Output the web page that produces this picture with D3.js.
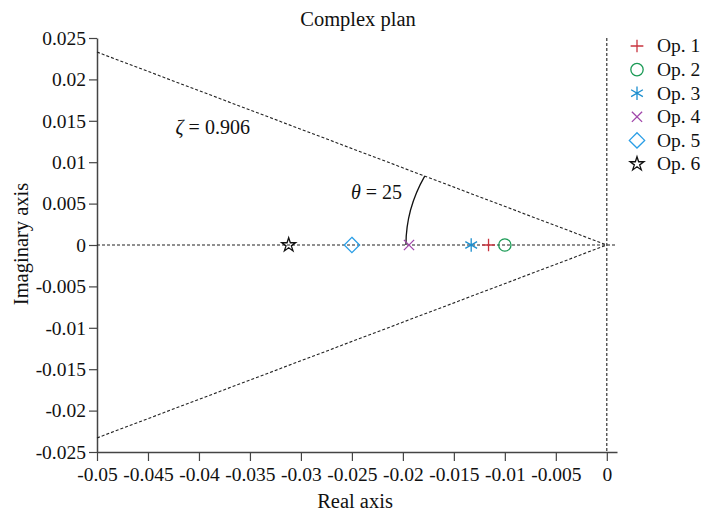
<!DOCTYPE html>
<html>
<head>
<meta charset="utf-8">
<script src="https://cdn.jsdelivr.net/npm/d3@7"></script>
<style>
  body { margin: 0; background: #fff; }
  svg text { font-family: "Liberation Serif", "DejaVu Serif", serif; fill: #111; }
</style>
</head>
<body>
<div id="chart"></div>
<script>
// Data
const series = ['Op. 1', 'Op. 2', 'Op. 3', 'Op. 4', 'Op. 5', 'Op. 6'];
const realValues = [-0.0116, -0.0100, -0.0133, -0.0194, -0.0250, -0.0312];
const imagValues = [0, 0, 0, 0, 0, 0];
const colors = ['#c9343f', '#1a9a55', '#1d8fcf', '#a046aa', '#2a9ee6', '#111111'];
const xTicks = [-0.05, -0.045, -0.04, -0.035, -0.03, -0.025, -0.02, -0.015, -0.01, -0.005, 0];
const yTicks = [0.025, 0.02, 0.015, 0.01, 0.005, 0, -0.005, -0.01, -0.015, -0.02, -0.025];
// damping lines through the origin: [x, y] at the left edge
const upperLine = [[-0.05, 0.0233], [0, 0]];
const lowerLine = [[-0.05, -0.0233], [0, 0]];
const arcRadius = 0.0197;
const zetaLabel = 'ζ = 0.906';
const thetaLabel = 'θ = 25';

const width = 705, height = 514;
const margin = { top: 38, right: 88, bottom: 62, left: 97 };

const svg = d3.select('#chart').append('svg')
  .attr('width', width)
  .attr('height', height);

const x = d3.scaleLinear()
  .domain([-0.05, 0.001])
  .range([margin.left, width - margin.right]);

const y = d3.scaleLinear()
  .domain([-0.025, 0.025])
  .range([height - margin.bottom, margin.top]);

const fmt = d => d === 0 ? '0' : String(+d.toFixed(3));

// Axes
const xAxis = svg.append('g')
  .attr('transform', `translate(0,${y(-0.025)})`)
  .call(d3.axisBottom(x).tickValues(xTicks).tickFormat(fmt).tickSize(9).tickPadding(6).tickSizeOuter(0));

const yAxis = svg.append('g')
  .attr('transform', `translate(${x(-0.05)},0)`)
  .call(d3.axisLeft(y).tickValues(yTicks).tickFormat(fmt).tickSize(8).tickPadding(3).tickSizeOuter(0));

[xAxis, yAxis].forEach(g => {
  g.select('.domain').attr('stroke', '#444').attr('stroke-width', 1.5);
  g.selectAll('.tick line').attr('stroke', '#444').attr('stroke-width', 1.2);
  g.selectAll('text').attr('font-size', '19.5px').attr('fill', '#111')
    .attr('font-family', '"Liberation Serif", serif');
});

// Dashed reference lines
const dash = '3,2';
const line = d3.line().x(d => x(d[0])).y(d => y(d[1]));

svg.append('line')
  .attr('x1', x(-0.05)).attr('x2', x(0.001))
  .attr('y1', y(0)).attr('y2', y(0))
  .attr('stroke', '#222').attr('stroke-width', 1.1).attr('stroke-dasharray', dash);

svg.append('line')
  .attr('x1', x(0)).attr('x2', x(0))
  .attr('y1', y(0.025)).attr('y2', y(-0.025))
  .attr('stroke', '#222').attr('stroke-width', 1.1).attr('stroke-dasharray', dash);

[upperLine, lowerLine].forEach(l => {
  svg.append('path')
    .datum(l)
    .attr('fill', 'none')
    .attr('stroke', '#222')
    .attr('stroke-width', 1.1)
    .attr('stroke-dasharray', dash)
    .attr('d', line);
});

// Angle arc from the real axis to the upper line
const ang = Math.atan2(upperLine[0][1], -upperLine[0][0]);
const rx = x(0) - x(-arcRadius);
const ry = y(0) - y(arcRadius);
svg.append('path')
  .attr('fill', 'none')
  .attr('stroke', '#111')
  .attr('stroke-width', 1.3)
  .attr('d', `M${x(-arcRadius)},${y(0)} A${rx},${ry} 0 0 1 ${x(-arcRadius * Math.cos(ang))},${y(arcRadius * Math.sin(ang))}`);

// Annotations
const zeta = svg.append('text')
  .attr('x', x(-0.0423)).attr('y', y(0.0134))
  .attr('font-size', '20px');
zeta.append('tspan').attr('font-style', 'italic').text(zetaLabel.slice(0, 1));
zeta.append('tspan').text(zetaLabel.slice(1));

const theta = svg.append('text')
  .attr('x', x(-0.0251)).attr('y', y(0.0056))
  .attr('font-size', '20px');
theta.append('tspan').attr('font-style', 'italic').text(thetaLabel.slice(0, 1));
theta.append('tspan').text(thetaLabel.slice(1));

// Markers
const shapes = [d3.symbolPlus, d3.symbolCircle, d3.symbolAsterisk, d3.symbolTimes, d3.symbolDiamond2, d3.symbolStar];
const sizes = [55, 120, 130, 70, 150, 60];
const sym = i => d3.symbol().type(shapes[i]).size(sizes[i])();

svg.selectAll('.pt')
  .data(series)
  .enter()
  .append('path')
  .attr('class', 'pt')
  .attr('transform', (d, i) => `translate(${x(realValues[i])},${y(imagValues[i])})`)
  .attr('d', (d, i) => sym(i))
  .attr('fill', 'none')
  .attr('stroke', (d, i) => colors[i])
  .attr('stroke-width', 1.3);

// Legend
const legend = svg.append('g').attr('transform', 'translate(637,46)');
const rows = legend.selectAll('g')
  .data(series)
  .enter()
  .append('g')
  .attr('transform', (d, i) => `translate(0,${i * 23.6})`);

rows.append('path')
  .attr('d', (d, i) => sym(i))
  .attr('fill', 'none')
  .attr('stroke', (d, i) => colors[i])
  .attr('stroke-width', 1.3);

rows.append('text')
  .attr('x', 20)
  .attr('dy', '0.33em')
  .attr('font-size', '19.5px')
  .text(d => d);

// Titles
svg.append('text')
  .attr('x', 358).attr('y', 26)
  .attr('text-anchor', 'middle')
  .attr('font-size', '20.5px')
  .text('Complex plan');

svg.append('text')
  .attr('x', 355).attr('y', 508)
  .attr('text-anchor', 'middle')
  .attr('font-size', '20.5px')
  .text('Real axis');

svg.append('text')
  .attr('transform', 'translate(28,244) rotate(-90)')
  .attr('text-anchor', 'middle')
  .attr('font-size', '20.5px')
  .text('Imaginary axis');
</script>
</body>
</html>
